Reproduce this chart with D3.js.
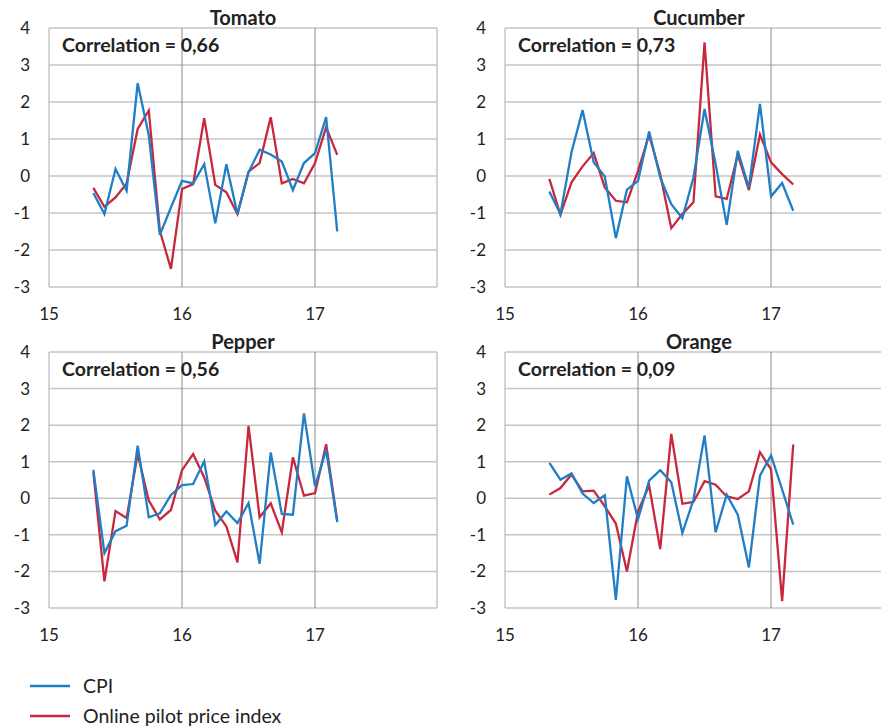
<!DOCTYPE html>
<html>
<head>
<meta charset="utf-8">
<script src="https://cdn.jsdelivr.net/npm/d3@7"></script>
<style>
body { margin: 0; background: #fff; }
text { font-family: Lato, "Open Sans", sans-serif; fill: #222; }
</style>
</head>
<body>
<script>
var width = 881,
    height = 726;

// monthly observations, May 2015 .. Mar 2017 (x in years, 15 = 2015)
var months = d3.range(23).map(function(i){ return 15 + (4 + i) / 12; });
var xTicks = [15, 16, 17];
var yTicks = [-3, -2, -1, 0, 1, 2, 3, 4];

var tomatoCpi = [-0.46, -1.03, 0.19, -0.40, 2.51, 1.10, -1.59, -0.85, -0.13, -0.20, 0.32, -1.28, 0.32, -1.03, 0.10, 0.71, 0.58, 0.39, -0.38, 0.35, 0.62, 1.59, -1.50];
var tomatoOnline = [-0.32, -0.83, -0.58, -0.20, 1.27, 1.77, -1.48, -2.51, -0.35, -0.22, 1.56, -0.24, -0.44, -1.03, 0.12, 0.35, 1.59, -0.20, -0.08, -0.20, 0.35, 1.32, 0.57];

var cucumberCpi = [-0.42, -1.03, 0.64, 1.78, 0.37, -0.01, -1.68, -0.37, -0.13, 1.20, -0.04, -0.76, -1.14, -0.04, 1.81, 0.32, -1.32, 0.68, -0.31, 1.95, -0.55, -0.19, -0.94];
var cucumberOnline = [-0.08, -1.05, -0.17, 0.26, 0.62, -0.31, -0.67, -0.71, 0.14, 1.11, 0.05, -1.41, -1.03, -0.71, 3.61, -0.55, -0.62, 0.58, -0.38, 1.12, 0.37, 0.05, -0.23];

var pepperCpi = [0.78, -1.50, -0.90, -0.75, 1.44, -0.52, -0.41, 0.09, 0.36, 0.39, 1.01, -0.73, -0.36, -0.68, -0.13, -1.79, 1.25, -0.43, -0.45, 2.32, 0.33, 1.32, -0.65];
var pepperOnline = [0.71, -2.27, -0.35, -0.54, 1.21, -0.06, -0.58, -0.32, 0.77, 1.21, 0.57, -0.34, -0.77, -1.75, 1.98, -0.52, -0.14, -0.93, 1.12, 0.07, 0.14, 1.48, -0.62];

var orangeCpi = [0.97, 0.51, 0.68, 0.13, -0.13, 0.08, -2.78, 0.60, -0.57, 0.48, 0.77, 0.44, -0.95, -0.04, 1.72, -0.93, 0.10, -0.45, -1.89, 0.62, 1.17, 0.24, -0.72];
var orangeOnline = [0.10, 0.28, 0.65, 0.19, 0.21, -0.22, -0.69, -2.00, -0.36, 0.35, -1.39, 1.76, -0.15, -0.10, 0.47, 0.37, 0.05, -0.02, 0.19, 1.26, 0.79, -2.81, 1.47];

var panels = [
  {title: "Tomato",   corr: "0,66", cpi: tomatoCpi,   online: tomatoOnline,   left: 49,  top: 28,  bottom: 287},
  {title: "Cucumber", corr: "0,73", cpi: cucumberCpi, online: cucumberOnline, left: 505, top: 28,  bottom: 287},
  {title: "Pepper",   corr: "0,56", cpi: pepperCpi,   online: pepperOnline,   left: 49,  top: 352, bottom: 608},
  {title: "Orange",   corr: "0,09", cpi: orangeCpi,   online: orangeOnline,   left: 505, top: 352, bottom: 608}
];

var blue = "#1f7ec6",
    red = "#c8283c";

var svg = d3.select("body").append("svg")
    .attr("width", width)
    .attr("height", height);

panels.forEach(function(p){
  var x = d3.scaleLinear()
      .domain([15, 15 + 35 / 12])
      .range([p.left, p.left + 388]);
  var y = d3.scaleLinear()
      .domain([-3, 4])
      .range([p.bottom, p.top]);

  var g = svg.append("g");

  // horizontal grid
  g.selectAll(".hgrid")
    .data(yTicks)
    .enter().append("line")
    .attr("x1", x.range()[0]).attr("x2", x.range()[1])
    .attr("y1", d => y(d)).attr("y2", d => y(d))
    .attr("stroke", "#c4c4c4")
    .attr("stroke-width", 1.5);

  // vertical grid / frame
  g.selectAll(".vgrid")
    .data([15, 16, 17, 15 + 35 / 12])
    .enter().append("line")
    .attr("x1", d => x(d)).attr("x2", d => x(d))
    .attr("y1", y(4)).attr("y2", y(-3))
    .attr("stroke", (d, i) => (i == 1 || i == 2) ? "#8c8c8c" : "#c4c4c4")
    .attr("stroke-width", (d, i) => (i == 1 || i == 2) ? 1 : 1.5);

  g.selectAll(".ylab")
    .data(yTicks)
    .enter().append("text")
    .attr("x", p.left - 19)
    .attr("y", d => y(d))
    .attr("dy", "0.35em")
    .attr("text-anchor", "end")
    .style("font-size", "17px")
    .text(d => d);

  g.selectAll(".xlab")
    .data(xTicks)
    .enter().append("text")
    .attr("x", d => x(d))
    .attr("y", p.bottom + 27)
    .attr("dy", "0.35em")
    .attr("text-anchor", "middle")
    .style("font-size", "17px")
    .text(d => d);

  g.append("text")
    .attr("x", p.left + 194)
    .attr("y", p.top - 3)
    .attr("text-anchor", "middle")
    .style("font-size", "20px")
    .style("font-weight", "bold")
    .text(p.title);

  g.append("text")
    .attr("x", p.left + 13)
    .attr("y", p.top + 24)
    .style("font-size", "19.5px")
    .style("font-weight", "bold")
    .text("Correlation = " + p.corr);

  var line = d3.line()
      .x((d, i) => x(months[i]))
      .y(d => y(d));

  g.append("path")
    .datum(p.online)
    .attr("d", line)
    .attr("fill", "none")
    .attr("stroke", red)
    .attr("stroke-width", 2.3);

  g.append("path")
    .datum(p.cpi)
    .attr("d", line)
    .attr("fill", "none")
    .attr("stroke", blue)
    .attr("stroke-width", 2.3);
});

// legend
var legend = [
  {name: "CPI", color: blue},
  {name: "Online pilot price index", color: red}
];

var lg = svg.selectAll(".legend")
    .data(legend)
    .enter().append("g")
    .attr("transform", (d, i) => "translate(30," + (686 + i * 30) + ")");

lg.append("line")
    .attr("x1", 0).attr("x2", 40)
    .attr("stroke", d => d.color)
    .attr("stroke-width", 2.5);

lg.append("text")
    .attr("x", 53)
    .attr("dy", "0.35em")
    .style("font-size", "19.5px")
    .text(d => d.name);
</script>
</body>
</html>
